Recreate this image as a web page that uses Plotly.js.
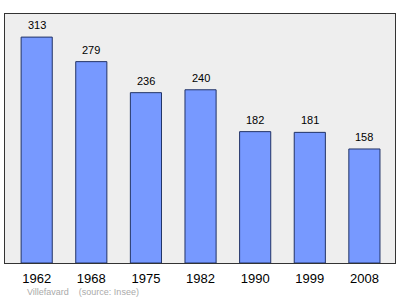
<!DOCTYPE html>
<html><head><meta charset="utf-8">
<script src="https://cdn.plot.ly/plotly-3.0.1.min.js"></script>
<style>html,body{margin:0;padding:0;background:#fff}#c{width:400px;height:299px}</style>
</head><body><div id="c"></div>
<script>
const years = ["1962","1968","1975","1982","1990","1999","2008"];
const population = [313,279,236,240,182,181,158];
const footer = "Villefavard &nbsp;&nbsp; (source: Insee)";

const trace = {
  type: "bar", x: years, y: population,
  width: 0.57,
  marker: {color: "#7799ff", line: {color: "#223366", width: 1}},
  hoverinfo: "none"
};
const annotations = years.map((yr, i) => ({
  x: i, y: population[i], text: String(population[i]),
  showarrow: false, yanchor: "bottom", yshift: 4,
  font: {family: "Liberation Sans, Arial, sans-serif", size: 11, color: "#000"}
}));
annotations.push({
  xref: "paper", yref: "paper", x: 0.05, y: -0.117, xanchor: "left", yanchor: "middle",
  text: footer, showarrow: false,
  font: {family: "Liberation Sans, Arial, sans-serif", size: 9, color: "#aaaaaa"}
});
Plotly.newPlot("c", [trace], {
  width: 400, height: 299,
  margin: {l: 5, r: 5, t: 14, b: 36},
  paper_bgcolor: "#ffffff", plot_bgcolor: "#eeeeee",
  showlegend: false,
  xaxis: {type: "category", range: [-0.58, 6.56], showline: true, mirror: true, linecolor: "#333", linewidth: 1,
    ticks: "", ticklabelstandoff: 3, tickfont: {family: "Liberation Sans, Arial, sans-serif", size: 13, color: "#000"}, showgrid: false, zeroline: false},
  yaxis: {range: [0, 345], showline: true, mirror: true, linecolor: "#333", linewidth: 1,
    showticklabels: false, ticks: "", showgrid: false, zeroline: false},
  annotations: annotations
}, {staticPlot: true, displayModeBar: false});
</script></body></html>
